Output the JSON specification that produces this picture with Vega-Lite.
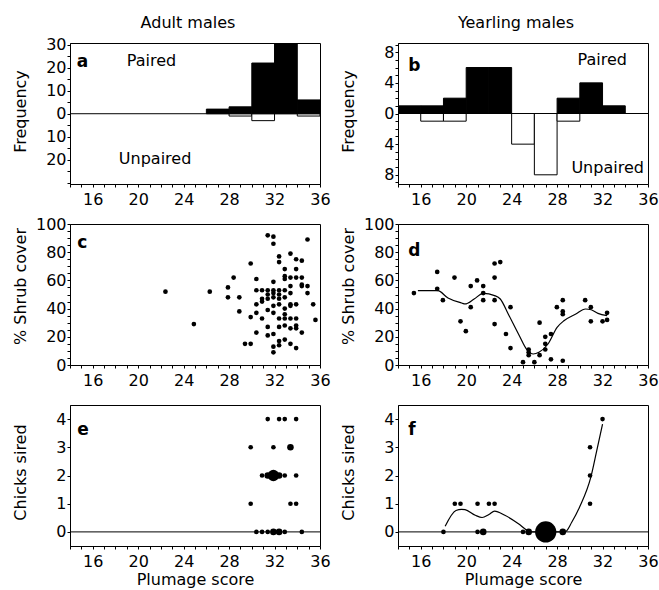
{
  "$schema": "https://vega.github.io/schema/vega-lite/v6.json",
  "padding": {"left": 11, "top": 14, "right": 3, "bottom": 0},
  "config": {
    "font": "DejaVu Sans",
    "view": {"stroke": "black", "strokeWidth": 1},
    "axis": {"labelFont": "DejaVu Sans", "labelFontSize": 16, "titleFont": "DejaVu Sans", "titleFontSize": 16, "titleFontWeight": "normal", "labelColor": "black", "titleColor": "black", "domainColor": "black", "tickColor": "black", "tickSize": 3, "labelPadding": 1, "grid": false, "labelOverlap": false, "labelFlush": false, "labelBound": false, "tickCount": 200},
    "axisX": {"labelPadding": 4},
    "text": {"font": "DejaVu Sans", "color": "black"}
  },
  "datasets": {
    "one": [{}],
    "histA": [
      {"lo": 26, "hi": 28, "freq": 2, "group": "Paired"},
      {"lo": 28, "hi": 30, "freq": 3, "group": "Paired"},
      {"lo": 30, "hi": 32, "freq": 22, "group": "Paired"},
      {"lo": 32, "hi": 34, "freq": 31, "group": "Paired"},
      {"lo": 34, "hi": 36, "freq": 6, "group": "Paired"},
      {"lo": 28, "hi": 30, "freq": -1, "group": "Unpaired"},
      {"lo": 30, "hi": 32, "freq": -3, "group": "Unpaired"},
      {"lo": 34, "hi": 36, "freq": -1, "group": "Unpaired"}
    ],
    "histB": [
      {"lo": 14, "hi": 16, "freq": 1, "group": "Paired"},
      {"lo": 16, "hi": 18, "freq": 1, "group": "Paired"},
      {"lo": 18, "hi": 20, "freq": 2, "group": "Paired"},
      {"lo": 20, "hi": 22, "freq": 6, "group": "Paired"},
      {"lo": 22, "hi": 24, "freq": 6, "group": "Paired"},
      {"lo": 28, "hi": 30, "freq": 2, "group": "Paired"},
      {"lo": 30, "hi": 32, "freq": 4, "group": "Paired"},
      {"lo": 32, "hi": 34, "freq": 1, "group": "Paired"},
      {"lo": 16, "hi": 18, "freq": -1, "group": "Unpaired"},
      {"lo": 18, "hi": 20, "freq": -1, "group": "Unpaired"},
      {"lo": 24, "hi": 26, "freq": -4, "group": "Unpaired"},
      {"lo": 26, "hi": 28, "freq": -8, "group": "Unpaired"},
      {"lo": 28, "hi": 30, "freq": -1, "group": "Unpaired"}
    ],
    "shrubA": [
      {"plumage": 22.4, "shrub": 52}, {"plumage": 24.9, "shrub": 29}, {"plumage": 26.3, "shrub": 52}, {"plumage": 27.9, "shrub": 55},
      {"plumage": 28.4, "shrub": 62}, {"plumage": 27.9, "shrub": 48}, {"plumage": 28.9, "shrub": 48}, {"plumage": 28.9, "shrub": 38},
      {"plumage": 29.9, "shrub": 72}, {"plumage": 29.9, "shrub": 34}, {"plumage": 29.4, "shrub": 15}, {"plumage": 29.9, "shrub": 15},
      {"plumage": 30.4, "shrub": 61}, {"plumage": 30.4, "shrub": 53}, {"plumage": 30.4, "shrub": 43}, {"plumage": 30.4, "shrub": 37},
      {"plumage": 30.4, "shrub": 23}, {"plumage": 30.9, "shrub": 53}, {"plumage": 30.9, "shrub": 47}, {"plumage": 30.9, "shrub": 45},
      {"plumage": 30.9, "shrub": 33}, {"plumage": 31.4, "shrub": 53}, {"plumage": 31.4, "shrub": 47}, {"plumage": 31.4, "shrub": 39},
      {"plumage": 31.4, "shrub": 27}, {"plumage": 31.4, "shrub": 21}, {"plumage": 31.4, "shrub": 92}, {"plumage": 31.4, "shrub": 50},
      {"plumage": 31.9, "shrub": 53}, {"plumage": 31.9, "shrub": 48}, {"plumage": 31.9, "shrub": 42}, {"plumage": 31.9, "shrub": 37},
      {"plumage": 31.9, "shrub": 59}, {"plumage": 31.9, "shrub": 91}, {"plumage": 31.9, "shrub": 86}, {"plumage": 31.9, "shrub": 22},
      {"plumage": 31.9, "shrub": 13}, {"plumage": 31.9, "shrub": 9}, {"plumage": 31.9, "shrub": 51}, {"plumage": 32.4, "shrub": 53},
      {"plumage": 32.4, "shrub": 50}, {"plumage": 32.4, "shrub": 43}, {"plumage": 32.4, "shrub": 33}, {"plumage": 32.4, "shrub": 27},
      {"plumage": 32.4, "shrub": 17}, {"plumage": 32.4, "shrub": 14}, {"plumage": 32.4, "shrub": 77}, {"plumage": 32.4, "shrub": 73},
      {"plumage": 32.4, "shrub": 47}, {"plumage": 32.9, "shrub": 68}, {"plumage": 32.9, "shrub": 63}, {"plumage": 32.9, "shrub": 61},
      {"plumage": 32.9, "shrub": 53}, {"plumage": 32.9, "shrub": 48}, {"plumage": 32.9, "shrub": 40}, {"plumage": 32.9, "shrub": 36},
      {"plumage": 32.9, "shrub": 33}, {"plumage": 32.9, "shrub": 28}, {"plumage": 32.9, "shrub": 18}, {"plumage": 33.4, "shrub": 79},
      {"plumage": 33.4, "shrub": 62}, {"plumage": 33.4, "shrub": 56}, {"plumage": 33.4, "shrub": 51}, {"plumage": 33.4, "shrub": 43},
      {"plumage": 33.4, "shrub": 42}, {"plumage": 33.4, "shrub": 33}, {"plumage": 33.4, "shrub": 26}, {"plumage": 33.4, "shrub": 15},
      {"plumage": 33.9, "shrub": 75}, {"plumage": 33.9, "shrub": 68}, {"plumage": 33.9, "shrub": 62}, {"plumage": 33.9, "shrub": 43},
      {"plumage": 33.9, "shrub": 33}, {"plumage": 33.9, "shrub": 28}, {"plumage": 33.9, "shrub": 26}, {"plumage": 33.9, "shrub": 12},
      {"plumage": 34.4, "shrub": 74}, {"plumage": 34.4, "shrub": 62}, {"plumage": 34.4, "shrub": 57}, {"plumage": 34.4, "shrub": 56},
      {"plumage": 34.4, "shrub": 23}, {"plumage": 34.9, "shrub": 89}, {"plumage": 34.9, "shrub": 56}, {"plumage": 34.9, "shrub": 51},
      {"plumage": 35.4, "shrub": 43}, {"plumage": 35.6, "shrub": 32}
    ],
    "shrubB": [
      {"plumage": 15.4, "shrub": 51}, {"plumage": 17.45, "shrub": 66}, {"plumage": 17.45, "shrub": 54}, {"plumage": 17.95, "shrub": 46},
      {"plumage": 18.97, "shrub": 62}, {"plumage": 19.5, "shrub": 31}, {"plumage": 19.97, "shrub": 24}, {"plumage": 20.4, "shrub": 56},
      {"plumage": 20.4, "shrub": 41}, {"plumage": 20.96, "shrub": 60}, {"plumage": 21.5, "shrub": 56}, {"plumage": 21.5, "shrub": 51},
      {"plumage": 21.5, "shrub": 46}, {"plumage": 22.5, "shrub": 72}, {"plumage": 23.0, "shrub": 73}, {"plumage": 22.5, "shrub": 62},
      {"plumage": 22.5, "shrub": 46}, {"plumage": 22.5, "shrub": 29}, {"plumage": 23.9, "shrub": 41}, {"plumage": 23.5, "shrub": 22},
      {"plumage": 23.9, "shrub": 12}, {"plumage": 25.0, "shrub": 2}, {"plumage": 25.5, "shrub": 11}, {"plumage": 25.5, "shrub": 9},
      {"plumage": 25.5, "shrub": 7}, {"plumage": 26.0, "shrub": 2}, {"plumage": 26.46, "shrub": 30}, {"plumage": 26.46, "shrub": 7},
      {"plumage": 26.96, "shrub": 20}, {"plumage": 26.96, "shrub": 15}, {"plumage": 26.96, "shrub": 11}, {"plumage": 27.46, "shrub": 22},
      {"plumage": 27.46, "shrub": 4}, {"plumage": 27.98, "shrub": 41}, {"plumage": 28.5, "shrub": 46}, {"plumage": 28.5, "shrub": 38},
      {"plumage": 28.5, "shrub": 36}, {"plumage": 28.5, "shrub": 3}, {"plumage": 30.47, "shrub": 46}, {"plumage": 30.97, "shrub": 41},
      {"plumage": 30.97, "shrub": 31}, {"plumage": 32.0, "shrub": 31}, {"plumage": 32.4, "shrub": 37}, {"plumage": 32.4, "shrub": 32}
    ],
    "smoothB": [
      {"plumage": 15.75, "shrub": 52.7}, {"plumage": 17.5, "shrub": 52.7}, {"plumage": 18.4, "shrub": 47.5}, {"plumage": 19.6, "shrub": 44},
      {"plumage": 19.9, "shrub": 43.3}, {"plumage": 20.7, "shrub": 46.8}, {"plumage": 21.5, "shrub": 50.8}, {"plumage": 22.5, "shrub": 49.2},
      {"plumage": 23.0, "shrub": 46.8}, {"plumage": 23.7, "shrub": 36.2}, {"plumage": 24.6, "shrub": 22}, {"plumage": 25.4, "shrub": 10.2},
      {"plumage": 25.9, "shrub": 7.8}, {"plumage": 26.4, "shrub": 9}, {"plumage": 27.2, "shrub": 14.9}, {"plumage": 28.0, "shrub": 26.7},
      {"plumage": 28.6, "shrub": 31.4}, {"plumage": 29.65, "shrub": 36.2}, {"plumage": 30.5, "shrub": 39.7}, {"plumage": 31.0, "shrub": 39.2},
      {"plumage": 31.6, "shrub": 36.6}, {"plumage": 32.4, "shrub": 35}
    ],
    "chicksA": [
      {"plumage": 31.4, "chicks": 4, "n": 1}, {"plumage": 32.4, "chicks": 4, "n": 1}, {"plumage": 32.9, "chicks": 4, "n": 1}, {"plumage": 33.9, "chicks": 4, "n": 1},
      {"plumage": 29.9, "chicks": 3, "n": 1}, {"plumage": 31.9, "chicks": 3, "n": 1}, {"plumage": 33.4, "chicks": 3, "n": 2},
      {"plumage": 30.9, "chicks": 2, "n": 1}, {"plumage": 31.4, "chicks": 2, "n": 2}, {"plumage": 31.9, "chicks": 2, "n": 6}, {"plumage": 32.4, "chicks": 2, "n": 2},
      {"plumage": 32.9, "chicks": 2, "n": 1}, {"plumage": 33.9, "chicks": 2, "n": 1},
      {"plumage": 29.9, "chicks": 1, "n": 1}, {"plumage": 33.4, "chicks": 1, "n": 1}, {"plumage": 33.9, "chicks": 1, "n": 1},
      {"plumage": 30.4, "chicks": 0, "n": 1}, {"plumage": 30.9, "chicks": 0, "n": 1}, {"plumage": 31.4, "chicks": 0, "n": 1}, {"plumage": 31.9, "chicks": 0, "n": 2},
      {"plumage": 32.4, "chicks": 0, "n": 2}, {"plumage": 32.9, "chicks": 0, "n": 1}, {"plumage": 34.4, "chicks": 0, "n": 1}
    ],
    "chicksB": [
      {"plumage": 19.0, "chicks": 1, "n": 1}, {"plumage": 19.5, "chicks": 1, "n": 1}, {"plumage": 21.0, "chicks": 1, "n": 1}, {"plumage": 22.0, "chicks": 1, "n": 1},
      {"plumage": 22.5, "chicks": 1, "n": 1}, {"plumage": 18.0, "chicks": 0, "n": 1}, {"plumage": 21.0, "chicks": 0, "n": 1}, {"plumage": 21.5, "chicks": 0, "n": 2},
      {"plumage": 25.0, "chicks": 0, "n": 1}, {"plumage": 25.5, "chicks": 0, "n": 2}, {"plumage": 27.0, "chicks": 0, "n": 21}, {"plumage": 28.5, "chicks": 0, "n": 2},
      {"plumage": 30.9, "chicks": 1, "n": 1}, {"plumage": 30.9, "chicks": 2, "n": 1}, {"plumage": 30.9, "chicks": 3, "n": 1}, {"plumage": 32.0, "chicks": 4, "n": 1}
    ],
    "smoothF": [
      {"plumage": 18.15, "chicks": 0.2}, {"plumage": 19.1, "chicks": 0.76}, {"plumage": 19.6, "chicks": 0.8}, {"plumage": 19.9, "chicks": 0.79},
      {"plumage": 20.8, "chicks": 0.59}, {"plumage": 21.4, "chicks": 0.51}, {"plumage": 22.0, "chicks": 0.62}, {"plumage": 22.5, "chicks": 0.74},
      {"plumage": 23.4, "chicks": 0.59}, {"plumage": 24.6, "chicks": 0.29}, {"plumage": 25.4, "chicks": 0.05}, {"plumage": 25.8, "chicks": 0},
      {"plumage": 28.7, "chicks": 0}, {"plumage": 29.3, "chicks": 0.35}, {"plumage": 30.0, "chicks": 0.9}, {"plumage": 30.97, "chicks": 1.94},
      {"plumage": 31.5, "chicks": 2.9}, {"plumage": 32.0, "chicks": 3.82}
    ]
  },
  "concat": [
    {
      "width": 250, "height": 141,
      "layer": [
        {
          "data": {"name": "histA"},
          "mark": {"type": "rect", "stroke": "black", "strokeWidth": 1, "clip": true},
          "encoding": {
            "x": {"field": "lo", "type": "quantitative", "scale": {"domain": [14, 36], "nice": false}, "axis": {"title": null, "format": "d", "labelOverlap": false, "tickCount": 200, "values": [14,15,16,17,18,19,20,21,22,23,24,25,26,27,28,29,30,31,32,33,34,35,36], "labelExpr": "datum.value % 4 == 0 && datum.value >= 16 ? datum.label : ''"}},
            "x2": {"field": "hi"},
            "y": {"field": "freq", "type": "quantitative", "scale": {"domain": [-30.5, 30.7], "nice": false, "zero": false}, "axis": {"title": "Frequency", "labelOverlap": false, "tickCount": 200, "titleX": -45, "titleY": 68, "titleBaseline": "alphabetic", "values": [-30,-25,-20,-15,-10,-5,0,5,10,15,20,25,30], "labelExpr": "datum.value % 10 == 0 && datum.value > -30 ? '' + abs(datum.value) : ''"}},
            "y2": {"datum": 0},
            "fill": {"field": "group", "type": "nominal", "scale": {"domain": ["Paired", "Unpaired"], "range": ["black", "white"]}, "legend": null}
          }
        },
        {"data": {"name": "one"}, "mark": {"type": "rule", "color": "black", "strokeWidth": 1}, "encoding": {"y": {"datum": 0}}},
        {"data": {"name": "one"}, "mark": {"type": "text", "align": "center", "baseline": "alphabetic", "fontSize": 16}, "encoding": {"x": {"datum": 24.38}, "y": {"datum": 37.2}, "text": {"value": "Adult males"}}},
        {"data": {"name": "one"}, "mark": {"type": "text", "align": "left", "baseline": "alphabetic", "fontSize": 17, "fontWeight": "bold"}, "encoding": {"x": {"datum": 14.6}, "y": {"datum": 20.5}, "text": {"value": "a"}}},
        {"data": {"name": "one"}, "mark": {"type": "text", "align": "left", "baseline": "alphabetic", "fontSize": 16}, "encoding": {"x": {"datum": 19.0}, "y": {"datum": 20.9}, "text": {"value": "Paired"}}},
        {"data": {"name": "one"}, "mark": {"type": "text", "align": "left", "baseline": "alphabetic", "fontSize": 16}, "encoding": {"x": {"datum": 18.3}, "y": {"datum": -21.9}, "text": {"value": "Unpaired"}}}
      ]
    },
    {
      "width": 250, "height": 141,
      "layer": [
        {
          "data": {"name": "histB"},
          "mark": {"type": "rect", "stroke": "black", "strokeWidth": 1, "clip": true},
          "encoding": {
            "x": {"field": "lo", "type": "quantitative", "scale": {"domain": [14, 36], "nice": false}, "axis": {"title": null, "format": "d", "labelOverlap": false, "tickCount": 200, "values": [14,15,16,17,18,19,20,21,22,23,24,25,26,27,28,29,30,31,32,33,34,35,36], "labelExpr": "datum.value % 4 == 0 && datum.value >= 16 ? datum.label : ''"}},
            "x2": {"field": "hi"},
            "y": {"field": "freq", "type": "quantitative", "scale": {"domain": [-9.2, 9.2], "nice": false, "zero": false}, "axis": {"title": "Frequency", "labelOverlap": false, "tickCount": 200, "titleX": -45, "titleY": 68, "titleBaseline": "alphabetic", "values": [-9,-8,-7,-6,-5,-4,-3,-2,-1,0,1,2,3,4,5,6,7,8,9], "labelExpr": "datum.value % 4 == 0 ? '' + abs(datum.value) : ''"}},
            "y2": {"datum": 0},
            "fill": {"field": "group", "type": "nominal", "scale": {"domain": ["Paired", "Unpaired"], "range": ["black", "white"]}, "legend": null}
          }
        },
        {"data": {"name": "one"}, "mark": {"type": "rule", "color": "black", "strokeWidth": 1}, "encoding": {"y": {"datum": 0}}},
        {"data": {"name": "one"}, "mark": {"type": "text", "align": "center", "baseline": "alphabetic", "fontSize": 16}, "encoding": {"x": {"datum": 24.38}, "y": {"datum": 11.16}, "text": {"value": "Yearling males"}}},
        {"data": {"name": "one"}, "mark": {"type": "text", "align": "left", "baseline": "alphabetic", "fontSize": 17, "fontWeight": "bold"}, "encoding": {"x": {"datum": 14.9}, "y": {"datum": 5.6}, "text": {"value": "b"}}},
        {"data": {"name": "one"}, "mark": {"type": "text", "align": "left", "baseline": "alphabetic", "fontSize": 16}, "encoding": {"x": {"datum": 29.8}, "y": {"datum": 6.3}, "text": {"value": "Paired"}}},
        {"data": {"name": "one"}, "mark": {"type": "text", "align": "left", "baseline": "alphabetic", "fontSize": 16}, "encoding": {"x": {"datum": 29.26}, "y": {"datum": -7.8}, "text": {"value": "Unpaired"}}}
      ]
    },
    {
      "width": 250, "height": 141,
      "layer": [
        {
          "data": {"name": "shrubA"},
          "mark": {"type": "circle", "color": "black", "opacity": 1, "size": 22},
          "encoding": {
            "x": {"field": "plumage", "type": "quantitative", "scale": {"domain": [14, 36], "nice": false}, "axis": {"title": null, "format": "d", "labelOverlap": false, "tickCount": 200, "values": [14,15,16,17,18,19,20,21,22,23,24,25,26,27,28,29,30,31,32,33,34,35,36], "labelExpr": "datum.value % 4 == 0 && datum.value >= 16 ? datum.label : ''"}},
            "y": {"field": "shrub", "type": "quantitative", "scale": {"domain": [0, 100], "nice": false}, "axis": {"title": "% Shrub cover", "format": "d", "labelOverlap": false, "tickCount": 200, "titleX": -45, "titleY": 62, "titleBaseline": "alphabetic", "values": [0,5,10,15,20,25,30,35,40,45,50,55,60,65,70,75,80,85,90,95,100], "labelExpr": "datum.value % 20 == 0 ? datum.label : ''"}}
          }
        },
        {"data": {"name": "one"}, "mark": {"type": "text", "align": "left", "baseline": "alphabetic", "fontSize": 17, "fontWeight": "bold"}, "encoding": {"x": {"datum": 14.64}, "y": {"datum": 83}, "text": {"value": "c"}}}
      ]
    },
    {
      "width": 250, "height": 141,
      "layer": [
        {
          "data": {"name": "smoothB"},
          "mark": {"type": "line", "color": "black", "strokeWidth": 1.2, "interpolate": "monotone"},
          "encoding": {
            "x": {"field": "plumage", "type": "quantitative", "scale": {"domain": [14, 36], "nice": false}, "axis": {"title": null, "format": "d", "labelOverlap": false, "tickCount": 200, "values": [14,15,16,17,18,19,20,21,22,23,24,25,26,27,28,29,30,31,32,33,34,35,36], "labelExpr": "datum.value % 4 == 0 && datum.value >= 16 ? datum.label : ''"}},
            "y": {"field": "shrub", "type": "quantitative", "scale": {"domain": [0, 100], "nice": false}, "axis": {"title": "% Shrub cover", "format": "d", "labelOverlap": false, "tickCount": 200, "titleX": -45, "titleY": 62, "titleBaseline": "alphabetic", "values": [0,5,10,15,20,25,30,35,40,45,50,55,60,65,70,75,80,85,90,95,100], "labelExpr": "datum.value % 20 == 0 ? datum.label : ''"}}
          }
        },
        {
          "data": {"name": "shrubB"},
          "mark": {"type": "circle", "color": "black", "opacity": 1, "size": 22},
          "encoding": {
            "x": {"field": "plumage", "type": "quantitative"},
            "y": {"field": "shrub", "type": "quantitative"}
          }
        },
        {"data": {"name": "one"}, "mark": {"type": "text", "align": "left", "baseline": "alphabetic", "fontSize": 17, "fontWeight": "bold"}, "encoding": {"x": {"datum": 14.9}, "y": {"datum": 77.5}, "text": {"value": "d"}}}
      ]
    },
    {
      "width": 250, "height": 141,
      "layer": [
        {"data": {"name": "one"}, "mark": {"type": "rule", "color": "black", "strokeWidth": 1}, "encoding": {"y": {"datum": 0, "type": "quantitative", "scale": {"domain": [-0.5, 4.5], "nice": false}}}},
        {
          "data": {"name": "chicksA"},
          "mark": {"type": "circle", "color": "black", "opacity": 1},
          "encoding": {
            "x": {"field": "plumage", "type": "quantitative", "scale": {"domain": [14, 36], "nice": false}, "axis": {"title": "Plumage score", "format": "d", "labelOverlap": false, "tickCount": 200, "titlePadding": 2, "values": [14,15,16,17,18,19,20,21,22,23,24,25,26,27,28,29,30,31,32,33,34,35,36], "labelExpr": "datum.value % 4 == 0 && datum.value >= 16 ? datum.label : ''"}},
            "y": {"field": "chicks", "type": "quantitative", "scale": {"domain": [-0.5, 4.5], "nice": false}, "axis": {"title": "Chicks sired", "format": "d", "labelOverlap": false, "tickCount": 200, "titleX": -45, "titleY": 67, "titleBaseline": "alphabetic", "values": [0,0.5,1,1.5,2,2.5,3,3.5,4,4.5], "labelExpr": "datum.value % 1 == 0 ? datum.label : ''"}},
            "size": {"field": "n", "type": "quantitative", "scale": {"domain": [0, 21], "range": [0, 452], "zero": true}, "legend": null}
          }
        },
        {"data": {"name": "one"}, "mark": {"type": "text", "align": "left", "baseline": "alphabetic", "fontSize": 17, "fontWeight": "bold"}, "encoding": {"x": {"datum": 14.64}, "y": {"datum": 3.43}, "text": {"value": "e"}}}
      ]
    },
    {
      "width": 250, "height": 141,
      "layer": [
        {"data": {"name": "one"}, "mark": {"type": "rule", "color": "black", "strokeWidth": 1}, "encoding": {"y": {"datum": 0, "type": "quantitative", "scale": {"domain": [-0.5, 4.5], "nice": false}}}},
        {
          "data": {"name": "smoothF"},
          "mark": {"type": "line", "color": "black", "strokeWidth": 1.2, "interpolate": "monotone"},
          "encoding": {
            "x": {"field": "plumage", "type": "quantitative", "scale": {"domain": [14, 36], "nice": false}, "axis": {"title": "Plumage score", "format": "d", "labelOverlap": false, "tickCount": 200, "titlePadding": 2, "values": [14,15,16,17,18,19,20,21,22,23,24,25,26,27,28,29,30,31,32,33,34,35,36], "labelExpr": "datum.value % 4 == 0 && datum.value >= 16 ? datum.label : ''"}},
            "y": {"field": "chicks", "type": "quantitative", "axis": {"title": "Chicks sired", "format": "d", "labelOverlap": false, "tickCount": 200, "titleX": -45, "titleY": 67, "titleBaseline": "alphabetic", "values": [0,0.5,1,1.5,2,2.5,3,3.5,4,4.5], "labelExpr": "datum.value % 1 == 0 ? datum.label : ''"}}
          }
        },
        {
          "data": {"name": "chicksB"},
          "mark": {"type": "circle", "color": "black", "opacity": 1},
          "encoding": {
            "x": {"field": "plumage", "type": "quantitative"},
            "y": {"field": "chicks", "type": "quantitative"},
            "size": {"field": "n", "type": "quantitative", "scale": {"domain": [0, 21], "range": [0, 452], "zero": true}, "legend": null}
          }
        },
        {"data": {"name": "one"}, "mark": {"type": "text", "align": "left", "baseline": "alphabetic", "fontSize": 17, "fontWeight": "bold"}, "encoding": {"x": {"datum": 14.9}, "y": {"datum": 3.43}, "text": {"value": "f"}}}
      ]
    }
  ],
  "columns": 2,
  "spacing": {"row": 40, "column": 78},
  "bounds": "flush"
}
